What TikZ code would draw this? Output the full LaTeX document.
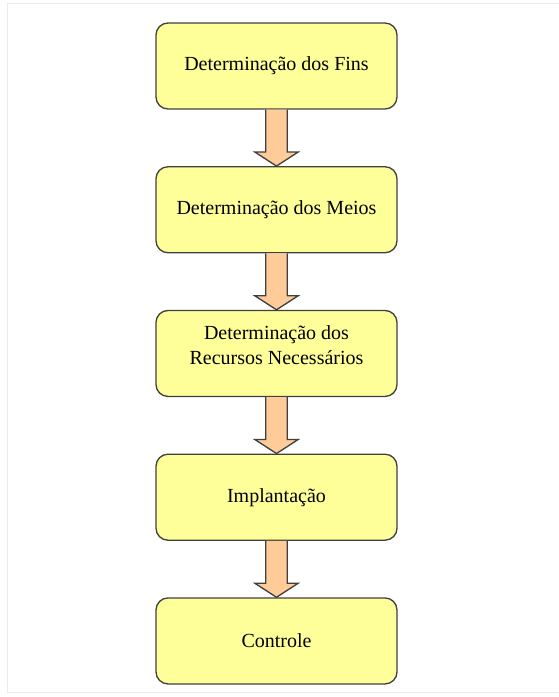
\documentclass[tikz,border=0pt]{standalone}
\usepackage{fontspec}
\setmainfont{Liberation Serif}
\usetikzlibrary{positioning,calc}
\definecolor{boxyellow}{RGB}{255,255,153}
\definecolor{arrowpeach}{RGB}{255,204,153}
\definecolor{edgegray}{RGB}{64,64,64}

\begin{document}
\begin{tikzpicture}[x=0.75pt,y=-0.75pt,node distance=107.8pt,
    stage/.style={draw=edgegray,fill=boxyellow,rounded corners=9pt,line width=1pt,
      minimum width=180.75pt,minimum height=64.5pt,align=center,
      font=\fontsize{15}{18.75}\selectfont},
    flow/.style={draw=edgegray,fill=arrowpeach,line width=1pt,line join=miter}]
    \useasboundingbox (0,0) rectangle (559,697);
    \draw [black!8] (559,3) -- (7,3) -- (7,692) -- (559,692);
    \node [stage] (fins) at (276.5,66) {Determinação dos Fins};
    \node [stage] (meios) [below of=fins] {Determinação dos Meios};
    \node [stage] (recursos) [below of=meios] {Determinação dos\\Recursos Necessários\\[-6pt]\mbox{}};
    \node [stage] (impl) [below of=recursos] {Implantação};
    \node [stage] (controle) [below of=impl] {Controle};
    \foreach \a/\b in {fins/meios,meios/recursos,recursos/impl,impl/controle}
      \draw [flow] ($(\a.south)+(-8.1pt,0pt)$) -- ($(\b.north)+(-8.1pt,10.5pt)$)
        -- ($(\b.north)+(-16.2pt,10.5pt)$) -- (\b.north)
        -- ($(\b.north)+(16.2pt,10.5pt)$) -- ($(\b.north)+(8.1pt,10.5pt)$)
        -- ($(\a.south)+(8.1pt,0pt)$);
\end{tikzpicture}
\end{document}
